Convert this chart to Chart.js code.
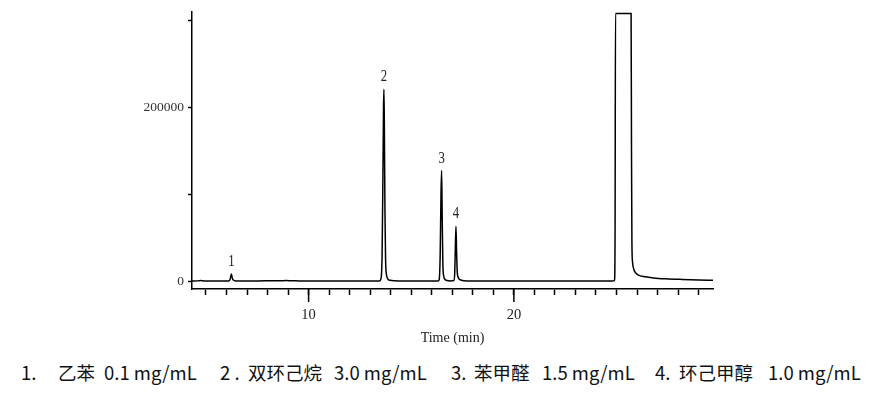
<!DOCTYPE html>
<html>
<head>
<meta charset="utf-8">
<script src="https://cdn.jsdelivr.net/npm/chart.js@4/dist/chart.umd.min.js"></script>
<style>
  html, body { margin: 0; padding: 0; background: #fff; }
  #wrap { position: relative; width: 880px; height: 394px; overflow: hidden; }
  #c { position: absolute; left: 0; top: 0; }
  .cap { position: absolute; top: 360px; font-family: "Noto Sans CJK SC", "Noto Sans", sans-serif; font-size: 18.5px; color: #111; white-space: pre; line-height: 24px; }
</style>
</head>
<body>
<div id="wrap">
  <canvas id="c" width="880" height="347"></canvas>
  <span class="cap" style="left:21px">1.</span>
  <span class="cap" style="left:58px">乙苯</span>
  <span class="cap" style="left:104px">0.1 mg/mL</span>
  <span class="cap" style="left:220px">2 .</span>
  <span class="cap" style="left:248px">双环己烷</span>
  <span class="cap" style="left:334px">3.0 mg/mL</span>
  <span class="cap" style="left:451px">3.</span>
  <span class="cap" style="left:474px">苯甲醛</span>
  <span class="cap" style="left:542px">1.5 mg/mL</span>
  <span class="cap" style="left:655px">4.</span>
  <span class="cap" style="left:679px">环己甲醇</span>
  <span class="cap" style="left:768px">1.0 mg/mL</span>
</div>
<script>
// ---- data ----
const times = [4.32, 4.6, 4.75, 4.85, 5.0, 5.4, 5.8, 6.10, 6.17, 6.21, 6.24, 6.27, 6.31, 6.40, 6.55,
  7.0, 7.5, 8.0, 8.3, 8.6, 8.9, 9.2, 9.5, 10.0, 11.0, 12.0, 13.0, 13.45, 13.53, 13.58, 13.62, 13.65,
  13.67, 13.69, 13.72, 13.75, 13.79, 13.86, 13.97, 14.2, 14.6, 15.5, 16.3, 16.36, 16.41, 16.45, 16.48,
  16.51, 16.54, 16.58, 16.65, 16.75, 16.90, 17.08, 17.12, 17.15, 17.18, 17.21, 17.24, 17.29, 17.38,
  17.55, 17.9, 19, 20, 22, 24, 24.8, 24.88, 24.91, 24.93, 24.95, 25.71, 25.73, 25.75, 25.78, 25.85,
  25.95, 26.1, 26.4, 26.8, 27.4, 28.2, 29.0, 29.7];
const signal = [0, 150, 500, 200, 0, 100, 0, 0, 1500, 5500, 8000, 4500, 1500, 400, 0,
  100, 0, 200, 400, 250, 450, 200, 150, 0, 0, 0, 0, 0, 3000, 30000, 120000, 200000,
  220700, 180000, 80000, 25000, 8000, 2500, 800, 200, 0, 0, 0, 1500, 30000, 100000, 127100,
  70000, 20000, 6000, 1800, 500, 0, 500, 10000, 40000, 63000, 33000, 11000, 4000, 1500,
  400, 0, 0, 0, 0, 0, 0, 300, 2500, 60000, 308000, 308000, 150000, 45000, 22000, 13000,
  9000, 6500, 4800, 3600, 2600, 1800, 1200, 900];

const peakLabels = ['1', '2', '3', '4'];
const peakTimes = [6.24, 13.67, 16.48, 17.18];
const peakHeights = [8000, 220700, 127100, 63000];

const xTickValues = [5, 6, 7, 8, 9, 10, 11, 12, 13, 14, 15, 16, 17, 18, 19, 20, 21, 22, 23, 24, 25, 26, 27, 28, 29];
const xMajorTicks = [10, 20];
const xTickLabels = ['10', '20'];
const yTickValues = [0, 100000, 200000, 300000];
const yTickLabels = ['0', '', '200000', ''];
const xTitle = 'Time (min)';

// ---- plugins ----
const extras = {
  id: 'extras',
  afterDraw(chart) {
    const ctx = chart.ctx, xs = chart.scales.x, ys = chart.scales.y, a = chart.chartArea;
    ctx.save();
    ctx.strokeStyle = '#000';
    ctx.lineWidth = 1.5;
    xMajorTicks.forEach(v => {
      const px = xs.getPixelForValue(v);
      ctx.beginPath();
      ctx.moveTo(px, a.bottom);
      ctx.lineTo(px, a.bottom + 13);
      ctx.stroke();
    });
    ctx.fillStyle = '#222';
    ctx.font = '17px "Liberation Serif", serif';
    ctx.textAlign = 'center';
    ctx.textBaseline = 'middle';
    peakLabels.forEach((t, i) => {
      const px = xs.getPixelForValue(peakTimes[i]);
      const py = ys.getPixelForValue(peakHeights[i]) - 12.5;
      ctx.save();
      ctx.translate(px, py);
      ctx.scale(0.75, 1);
      ctx.fillText(t, 0, 0);
      ctx.restore();
    });
    ctx.restore();
  }
};

new Chart(document.getElementById('c'), {
  type: 'line',
  data: {
    datasets: [{
      data: times.map((t, i) => ({ x: t, y: signal[i] })),
      borderColor: '#000',
      borderWidth: 1.5,
      pointRadius: 0,
      fill: false,
      cubicInterpolationMode: 'monotone'
    }]
  },
  options: {
    responsive: false,
    animation: false,
    events: [],
    layout: { padding: { left: 0, right: 167, top: 12, bottom: 0 } },
    plugins: { legend: { display: false }, tooltip: { enabled: false } },
    scales: {
      x: {
        type: 'linear',
        min: 4.32,
        max: 29.7,
        afterBuildTicks: s => { s.ticks = xTickValues.map(v => ({ value: v })); },
        afterFit: s => { s.height = 58; },
        border: { color: '#000', width: 1.5 },
        grid: { drawOnChartArea: false, color: '#000', tickLength: 6, tickWidth: 1.5 },
        ticks: {
          autoSkip: false, maxRotation: 0, padding: 11, color: '#222',
          font: { family: '"Liberation Serif", serif', size: 14.5 },
          callback: v => { const k = xMajorTicks.indexOf(v); return k >= 0 ? xTickLabels[k] : ''; }
        },
        title: {
          display: true, text: xTitle, color: '#222', padding: 0,
          font: { family: '"Liberation Serif", serif', size: 14 }
        }
      },
      y: {
        type: 'linear',
        min: -9200,
        max: 309500,
        afterBuildTicks: s => { s.ticks = yTickValues.map(v => ({ value: v })); },
        afterFit: s => { s.width = 192; },
        border: { color: '#000', width: 1.5 },
        grid: { drawOnChartArea: false, color: '#000', tickLength: 4, tickWidth: 1.5 },
        ticks: {
          padding: 4, color: '#333',
          font: { family: '"Liberation Serif", serif', size: 13.5 },
          callback: v => { const k = yTickValues.indexOf(v); return k >= 0 ? yTickLabels[k] : ''; }
        }
      }
    }
  },
  plugins: [extras]
});
</script>
</body>
</html>
